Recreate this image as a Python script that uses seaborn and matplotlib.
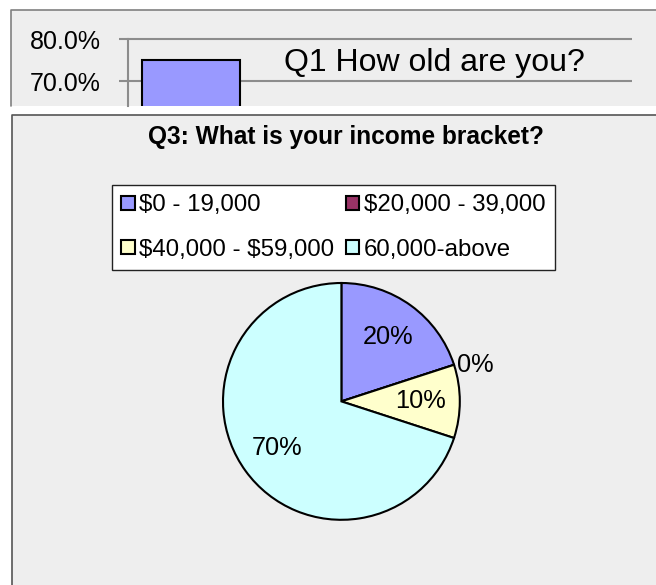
import numpy as np
import pandas as pd
import matplotlib
matplotlib.use("Agg")
import matplotlib.pyplot as plt
from matplotlib.patches import Rectangle
from matplotlib.lines import Line2D
import seaborn as sns

# ---- Q1 (only the visible part of the chart) ----
q1_title = "Q1 How old are you?"
age_groups = ["group 1"]
age_share = [75.0]
q1_ticks = [70, 80]

# ---- Q3 ----
q3_title = "Q3: What is your income bracket?"
income_brackets = ["$0 - 19,000", "$20,000 - 39,000", "$40,000 - $59,000", "60,000-above"]
income_share = [20, 0, 10, 70]
income_colors = ["#9999FF", "#993366", "#FFFFCC", "#CCFFFF"]

W, H = 656, 585
sns.set_theme(style="white")
plt.rcParams["font.family"] = ["Liberation Sans", "DejaVu Sans"]
plt.rcParams["text.parse_math"] = False
plt.rcParams["text.color"] = "black"

fig = plt.figure(figsize=(W / 100, H / 100), dpi=100)
fig.patch.set_facecolor("white")


def fx(x):
    return x / W


def fy(y):
    return 1 - y / H


def rect_px(x0, y0, x1, y1):
    return [fx(x0), fy(y1), (x1 - x0) / W, (y1 - y0) / H]


panel = "#EEEEEE"
# top panel (cut off at the bottom)
fig.add_artist(Rectangle((fx(11), fy(105.7)), 1.2, fy(9.7) - fy(105.7),
                         transform=fig.transFigure, facecolor=panel,
                         edgecolor="none", zorder=-5))
fig.add_artist(Line2D([fx(11), fx(11), 1.2], [fy(105.7), fy(9.7), fy(9.7)],
                      transform=fig.transFigure, color="#808080", lw=1.2, zorder=-4))
# bottom panel
fig.add_artist(Rectangle((fx(12), -0.2), 1.2, fy(114.5) + 0.2,
                         transform=fig.transFigure, facecolor=panel,
                         edgecolor="none", zorder=-5))
fig.add_artist(Line2D([fx(12), fx(12), 1.2], [-0.2, fy(114.5), fy(114.5)],
                      transform=fig.transFigure, color="#555555", lw=1.2, zorder=-4))

# ---- top bar chart ----
ax1 = fig.add_axes(rect_px(127.7, 9.7, 631.7, 105.7))
ax1.set_facecolor("none")
df1 = pd.DataFrame({"group": age_groups, "share": age_share})
sns.barplot(data=df1, x="group", y="share", ax=ax1, color="#9999FF",
            saturation=1, width=0.775, edgecolor="black", linewidth=1.5)
ylo, yhi = 64.08, 87.1
ax1.set_xlim(-0.5, 3.5)
ax1.set_ylim(ylo, yhi)
ax1.set_yticks(q1_ticks)
ax1.set_yticklabels([f"{t:.1f}%" for t in q1_ticks])
ax1.set_xlabel("")
ax1.set_ylabel("")
ax1.grid(axis="y", color="#8C8C8C", lw=1.5)
ax1.grid(axis="x", visible=False)
ax1.set_axisbelow(True)
for s in ["top", "right", "bottom"]:
    ax1.spines[s].set_visible(False)
ax1.spines["left"].set_color("#8C8C8C")
ax1.spines["left"].set_linewidth(1.5)
ax1.spines["left"].set_bounds(ylo, 80)
ax1.tick_params(axis="x", bottom=False, labelbottom=False)
ax1.tick_params(axis="y", left=True, length=6.3, width=1.5, color="#8C8C8C",
                direction="out", pad=13, labelsize=18, labelcolor="black")
fig.text(fx(434.5), fy(70.7), q1_title, ha="center", va="baseline",
         fontsize=23, color="black")

# ---- Q3 title, scaled to the reference width ----
t3 = fig.text(fx(345.7), fy(144.3), q3_title, ha="center", va="baseline",
              fontsize=18, fontweight="bold", color="black")
renderer = fig.canvas.get_renderer()
wpx = t3.get_window_extent(renderer).width
t3.set_fontsize(18 * 397.0 / wpx)

# ---- pie ----
cx, cy, r = 341.4, 401.4, 118.4
half = 1.5 * r
ax2 = fig.add_axes(rect_px(cx - half, cy - half, cx + half, cy + half))
wedges, _ = ax2.pie(income_share, colors=income_colors, startangle=90,
                    counterclock=False,
                    wedgeprops=dict(edgecolor="black", linewidth=1.5))
ax2.set_xlim(-1.5, 1.5)
ax2.set_ylim(-1.5, 1.5)
ax2.set_facecolor("none")
ax2.axis("off")
for w, v in zip(wedges, income_share):
    ang = np.deg2rad((w.theta1 + w.theta2) / 2)
    if v > 0:
        ax2.text(0.67 * np.cos(ang), 0.67 * np.sin(ang), f"{v}%",
                 ha="center", va="center", fontsize=18.3, color="black")
    else:
        ax2.text(1.03 * np.cos(ang), np.sin(ang), f"{v}%",
                 ha="left", va="center", fontsize=18.3, color="black")

order = [0, 2, 1, 3]
leg = fig.legend(handles=[wedges[i] for i in order],
                 labels=[income_brackets[i] for i in order],
                 ncol=2, loc="upper left",
                 bbox_to_anchor=(fx(112.3), fy(185.3)),
                 bbox_transform=fig.transFigure, borderaxespad=0,
                 frameon=True, fancybox=False, shadow=False,
                 edgecolor="#222222", facecolor="white", framealpha=1,
                 fontsize=17.3, borderpad=0.38, handlelength=0.55,
                 handleheight=0.55, handletextpad=0.2, columnspacing=0.48,
                 labelspacing=0.92, labelcolor="black")
leg.get_frame().set_linewidth(1.0)

fig.savefig("out.png", dpi=100)
